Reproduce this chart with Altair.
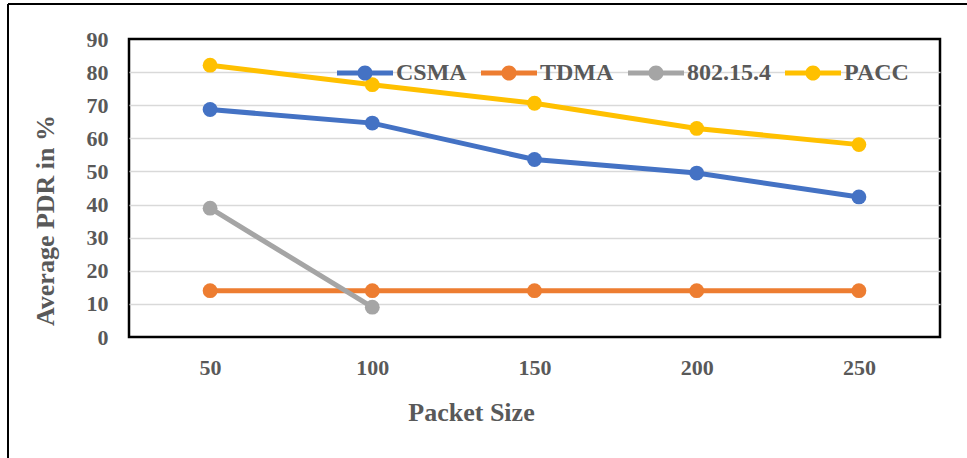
import altair as alt
import pandas as pd

# Packet sizes on the x axis and average PDR (%) per protocol
packet_sizes = ["50", "100", "150", "200", "250"]
csma = [68.7, 64.6, 53.6, 49.5, 42.3]
tdma = [14, 14, 14, 14, 14]
ieee_802154 = [38.9, 9.0]          # only measured for 50 and 100
pacc = [82.1, 76.2, 70.6, 63.0, 58.1]

series_names = ["CSMA", "TDMA", "802.15.4", "PACC"]
series_colors = ["#4472C4", "#ED7D31", "#A5A5A5", "#FFC000"]
y_ticks = [0, 10, 20, 30, 40, 50, 60, 70, 80, 90]

rows = []
for name, values in zip(series_names, [csma, tdma, ieee_802154, pacc]):
    for size, v in zip(packet_sizes, values):
        rows.append({"size": size, "pdr": v, "protocol": name})
df = pd.DataFrame(rows)

FONT = "Liberation Serif"
TEXT = "#595959"

# legend swatch: a horizontal bar with a dot in the middle
swatch = ("M-1,-0.09H-0.2V0.09H-1Z "
          "M0.2,-0.09H1V0.09H0.2Z "
          "M0.27,0A0.27,0.27 0 1,1 -0.27,0A0.27,0.27 0 1,1 0.27,0Z")

# grid lines at the ends of the range are hidden so the black frame shows
grid_color = {"condition": {"test": "datum.value === 0 || datum.value === 90",
                            "value": "transparent"},
              "value": "#D9D9D9"}

x_enc = alt.X("size:N", sort=packet_sizes,
              scale=alt.Scale(type="point", padding=0.5),
              axis=alt.Axis(title="Packet Size", domain=False, ticks=False,
                            labelAngle=0, labelPadding=20, labelFontSize=22,
                            labelFont=FONT, labelFontWeight="bold", labelColor=TEXT,
                            titleFont=FONT, titleFontSize=26, titleFontWeight="bold",
                            titleColor=TEXT, titleX=342, titleY=75,
                            titleAlign="center", titleBaseline="middle"))
y_enc = alt.Y("pdr:Q", scale=alt.Scale(domain=[0, 90], nice=False),
              axis=alt.Axis(title="Average PDR in %", values=y_ticks, domain=False,
                            ticks=False, labelPadding=21, labelFontSize=22,
                            labelFont=FONT, labelFontWeight="bold", labelColor=TEXT,
                            gridColor=grid_color, gridWidth=1.5,
                            titleFont=FONT, titleFontSize=26, titleFontWeight="bold",
                            titleColor=TEXT, titleAngle=270, titleX=-84, titleY=181,
                            titleAlign="center", titleBaseline="middle"))
color_enc = alt.Color("protocol:N",
                      scale=alt.Scale(domain=series_names, range=series_colors),
                      sort=series_names,
                      legend=alt.Legend(title=None, orient="none", direction="horizontal",
                                        legendX=208, legendY=6, padding=0,
                                        symbolType=swatch, symbolSize=3136,
                                        symbolStrokeWidth=0, symbolOpacity=1,
                                        labelFont=FONT, labelFontSize=24,
                                        labelFontWeight="bold", labelColor=TEXT,
                                        labelOffset=3, columnPadding=14))

base = alt.Chart(df).encode(x=x_enc, y=y_enc, color=color_enc,
                            order=alt.Order("protocol:N"))
lines = base.mark_line(strokeWidth=5)
dots = base.mark_circle(size=220, opacity=1)

# outer frame of the figure (top and left edges)
frame_df = pd.DataFrame({"k": [0]})
frame_top = alt.Chart(frame_df).mark_rule(color="black", strokeWidth=2).encode(
    x=alt.value(-121), x2=alt.value(840), y=alt.value(-35))
frame_left = alt.Chart(frame_df).mark_rule(color="black", strokeWidth=2).encode(
    x=alt.value(-121), y=alt.value(-35), y2=alt.value(430))

chart = alt.layer(lines, dots, frame_top, frame_left).properties(
    width=811, height=298,
    background="white",
    autosize=alt.AutoSizeParams(type="none"),
    padding={"left": 129, "top": 39, "right": 27, "bottom": 121},
).configure_view(stroke="black", strokeWidth=2.5)

chart.save("out.html", embed_options={"renderer": "svg", "actions": False})
